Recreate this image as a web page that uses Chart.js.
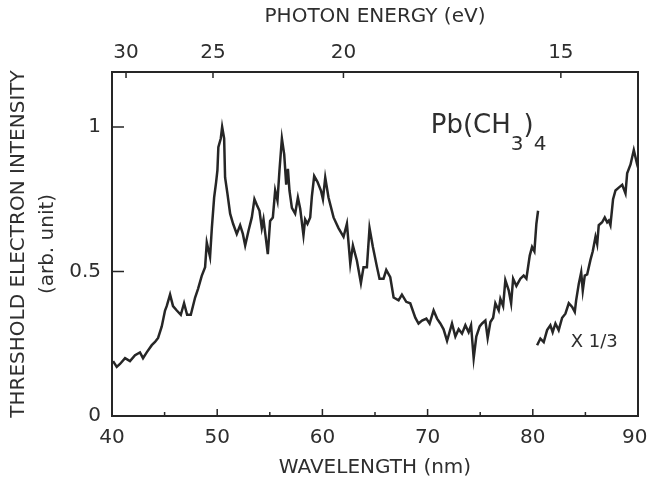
<!DOCTYPE html>
<html>
<head>
<meta charset="utf-8">
<script src="https://cdn.jsdelivr.net/npm/chart.js@4.4.1/dist/chart.umd.min.js"></script>
<style>
  html, body { margin: 0; padding: 0; background: #fff; }
  canvas { display: block; }
</style>
</head>
<body>
<canvas id="spectrum" width="648" height="483"></canvas>
<script>
// wavelength (nm) / intensity of the main trace
const mainWavelength = [40.1, 40.45, 40.76, 41.24, 41.71, 42.19, 42.66, 42.95, 43.3, 43.78,
    44.09, 44.38, 44.73, 45.04, 45.2, 45.52, 45.8, 46.16, 46.54, 46.85,
    47.14, 47.49, 47.9, 48.18, 48.53, 48.85, 49.01, 49.32, 49.49, 49.71,
    49.9, 50.02, 50.11, 50.34, 50.47, 50.66, 50.75, 50.97, 51.23, 51.51,
    51.86, 52.18, 52.44, 52.66, 52.97, 53.29, 53.54, 53.77, 54.02, 54.24,
    54.4, 54.59, 54.81, 55.03, 55.29, 55.51, 55.73, 55.92, 56.15, 56.37,
    56.56, 56.72, 56.87, 57.1, 57.41, 57.67, 57.89, 58.2, 58.36, 58.58,
    58.84, 59.0, 59.22, 59.53, 59.86, 60.05, 60.27, 60.58, 61.06, 61.53,
    62.01, 62.33, 62.65, 62.9, 63.28, 63.66, 63.91, 64.23, 64.48, 64.8,
    65.19, 65.43, 65.81, 66.07, 66.45, 66.77, 67.24, 67.56, 67.97, 68.35,
    68.83, 69.14, 69.47, 69.88, 70.19, 70.57, 70.9, 71.21, 71.52, 71.85,
    72.32, 72.64, 72.95, 73.27, 73.59, 73.9, 74.13, 74.38, 74.63, 74.95,
    75.18, 75.49, 75.71, 75.97, 76.23, 76.44, 76.76, 76.92, 77.18, 77.39,
    77.71, 77.94, 78.13, 78.44, 78.82, 79.13, 79.39, 79.51, 79.71, 79.93,
    80.15, 80.34, 80.5];
const mainIntensity = [0.19, 0.17, 0.18, 0.20, 0.19, 0.21, 0.22, 0.20, 0.22, 0.245,
    0.256, 0.27, 0.31, 0.365, 0.38, 0.42, 0.38, 0.365, 0.35, 0.39,
    0.35, 0.35, 0.41, 0.44, 0.485, 0.515, 0.60, 0.55, 0.65, 0.756,
    0.81, 0.85, 0.93, 0.96, 1.0, 0.96, 0.825, 0.77, 0.70, 0.665,
    0.63, 0.66, 0.63, 0.59, 0.64, 0.687, 0.75, 0.73, 0.71, 0.65,
    0.68, 0.625, 0.56, 0.675, 0.687, 0.78, 0.745, 0.85, 0.96, 0.905,
    0.80, 0.855, 0.78, 0.72, 0.70, 0.756, 0.717, 0.625, 0.68, 0.665,
    0.687, 0.76, 0.83, 0.81, 0.78, 0.75, 0.825, 0.756, 0.687, 0.65,
    0.62, 0.665, 0.527, 0.59, 0.537, 0.46, 0.515, 0.515, 0.65, 0.585,
    0.515, 0.475, 0.475, 0.505, 0.48, 0.41, 0.40, 0.42, 0.395, 0.39,
    0.34, 0.32, 0.33, 0.337, 0.32, 0.365, 0.337, 0.32, 0.30, 0.26,
    0.32, 0.275, 0.30, 0.285, 0.314, 0.29, 0.314, 0.20, 0.275, 0.31,
    0.32, 0.33, 0.27, 0.325, 0.34, 0.39, 0.365, 0.405, 0.38, 0.47,
    0.435, 0.39, 0.475, 0.45, 0.475, 0.486, 0.475, 0.505, 0.555, 0.585,
    0.57, 0.665, 0.71];

// trace shown at x 1/3
const scaledWavelength = [80.41, 80.72, 81.04, 81.36, 81.67, 81.89, 82.15, 82.46, 82.79, 83.1,
    83.42, 83.74, 83.99, 84.12, 84.37, 84.6, 84.75, 84.94, 85.17, 85.48,
    85.7, 85.96, 86.12, 86.27, 86.59, 86.84, 87.07, 87.22, 87.38, 87.63,
    87.86, 88.17, 88.5, 88.81, 88.97, 89.29, 89.6, 89.92, 90.0];
const scaledIntensity = [0.245, 0.268, 0.256, 0.297, 0.314, 0.29, 0.32, 0.297, 0.34, 0.354,
    0.39, 0.377, 0.36, 0.40, 0.457, 0.497, 0.434, 0.486, 0.49, 0.54,
    0.57, 0.62, 0.595, 0.66, 0.67, 0.687, 0.67, 0.676, 0.66, 0.75,
    0.78, 0.79, 0.80, 0.77, 0.84, 0.87, 0.92, 0.87, 0.86];

const wavelengthTicks = [40, 50, 60, 70, 80, 90];
const wavelengthMinorTicks = [45, 55, 65, 75, 85];
const energyTicks = [30, 25, 20, 15];
const intensityTicks = [0, 0.5, 1];
const intensityTickLabels = ['0', '0.5', '1'];

const HC = 1240; // eV * nm
const ink = '#262626';
const textInk = '#2e2e2e';
const fontFamily = "'DejaVu Sans', sans-serif";

function toPoints(xs, ys) {
    return xs.map((x, i) => ({ x: x, y: ys[i] }));
}

function noPadding(scale) {
    scale.paddingLeft = 0;
    scale.paddingRight = 0;
    scale.paddingTop = 0;
    scale.paddingBottom = 0;
}

// inward tick marks + the two annotations
const frameMarks = {
    id: 'frameMarks',
    afterDraw(chart) {
        const { ctx, chartArea, scales } = chart;
        ctx.save();
        ctx.strokeStyle = ink;
        ctx.lineWidth = 1.5;
        ctx.beginPath();
        wavelengthTicks.slice(1, -1).forEach(v => {
            const px = scales.x.getPixelForValue(v);
            ctx.moveTo(px, chartArea.bottom);
            ctx.lineTo(px, chartArea.bottom - 7);
        });
        wavelengthMinorTicks.forEach(v => {
            const px = scales.x.getPixelForValue(v);
            ctx.moveTo(px, chartArea.bottom);
            ctx.lineTo(px, chartArea.bottom - 4);
        });
        energyTicks.forEach(e => {
            const px = scales.x2.getPixelForValue(HC / e);
            ctx.moveTo(px, chartArea.top);
            ctx.lineTo(px, chartArea.top + 6);
        });
        intensityTicks.slice(1).forEach(v => {
            const py = scales.y.getPixelForValue(v);
            ctx.moveTo(chartArea.left, py);
            ctx.lineTo(chartArea.left + 12, py);
        });
        ctx.stroke();

        // Pb(CH3)4
        ctx.fillStyle = textInk;
        ctx.textBaseline = 'alphabetic';
        ctx.textAlign = 'left';
        let tx = scales.x.getPixelForValue(70.3);
        const ty = scales.y.getPixelForValue(0.98);
        const big = '26px ' + fontFamily;
        const small = '20px ' + fontFamily;
        [['Pb(CH', big, 0], ['3', small, 17], [')', big, 0], ['4', small, 17]].forEach(([s, f, dy]) => {
            ctx.font = f;
            ctx.fillText(s, tx, ty + dy);
            tx += ctx.measureText(s).width;
        });

        ctx.font = '18px ' + fontFamily;
        ctx.fillText('X 1/3', scales.x.getPixelForValue(83.6), scales.y.getPixelForValue(0.24));
        ctx.restore();
    }
};

Chart.defaults.font.family = fontFamily;
Chart.defaults.color = textInk;

new Chart(document.getElementById('spectrum'), {
    type: 'line',
    data: {
        datasets: [{
            data: toPoints(mainWavelength, mainIntensity),
            borderColor: ink,
            borderWidth: 2.5,
            pointRadius: 0,
            tension: 0
        }, {
            data: toPoints(scaledWavelength, scaledIntensity),
            borderColor: ink,
            borderWidth: 2.5,
            pointRadius: 0,
            tension: 0
        }]
    },
    options: {
        responsive: false,
        animation: false,
        layout: { padding: 0 },
        plugins: {
            legend: { display: false },
            tooltip: { enabled: false }
        },
        scales: {
            x: {
                type: 'linear',
                position: 'bottom',
                min: 40,
                max: 90,
                afterBuildTicks: scale => {
                    scale.ticks = wavelengthTicks.map(v => ({ value: v }));
                },
                afterFit: scale => { scale.height = 67; noPadding(scale); },
                grid: { drawOnChartArea: false, drawTicks: false },
                border: { color: ink, width: 2 },
                ticks: {
                    font: { size: 20 },
                    padding: 10,
                    maxRotation: 0,
                    // last label would run off the canvas edge, nudge it left a little
                    callback: (value, index) => index === wavelengthTicks.length - 1 ? value + ' ' : String(value)
                },
                title: {
                    display: true,
                    text: 'WAVELENGTH (nm)',
                    font: { size: 20 },
                    padding: { top: 0, bottom: 3 }
                }
            },
            x2: {
                type: 'linear',
                position: 'top',
                min: 40,
                max: 90,
                afterBuildTicks: scale => {
                    scale.ticks = energyTicks.map(e => ({ value: HC / e }));
                },
                afterFit: scale => { scale.height = 72; noPadding(scale); },
                grid: { drawOnChartArea: false, drawTicks: false },
                border: { color: ink, width: 2 },
                ticks: {
                    font: { size: 20 },
                    padding: 7,
                    maxRotation: 0,
                    callback: (value, index) => String(energyTicks[index])
                },
                title: {
                    display: true,
                    text: 'PHOTON ENERGY (eV)',
                    font: { size: 20 },
                    padding: { top: 5, bottom: 0 }
                }
            },
            y: {
                type: 'linear',
                position: 'left',
                min: 0,
                max: 1.19,
                afterBuildTicks: scale => {
                    scale.ticks = intensityTicks.map(v => ({ value: v }));
                },
                afterFit: scale => { scale.width = 112; noPadding(scale); },
                grid: { drawOnChartArea: false, drawTicks: false },
                border: { color: ink, width: 2 },
                ticks: {
                    font: { size: 20 },
                    padding: 11,
                    callback: (value, index) => intensityTickLabels[index]
                },
                title: {
                    display: true,
                    text: ['THRESHOLD ELECTRON INTENSITY', '(arb. unit)'],
                    font: { size: 20, lineHeight: 1.45 },
                    padding: { top: 4, bottom: 0 }
                }
            },
            y2: {
                type: 'linear',
                position: 'right',
                min: 0,
                max: 1.19,
                afterFit: scale => { scale.width = 10; noPadding(scale); },
                grid: { drawOnChartArea: false, drawTicks: false },
                border: { color: ink, width: 2 },
                ticks: { display: false }
            }
        }
    },
    plugins: [frameMarks]
});
</script>
</body>
</html>
